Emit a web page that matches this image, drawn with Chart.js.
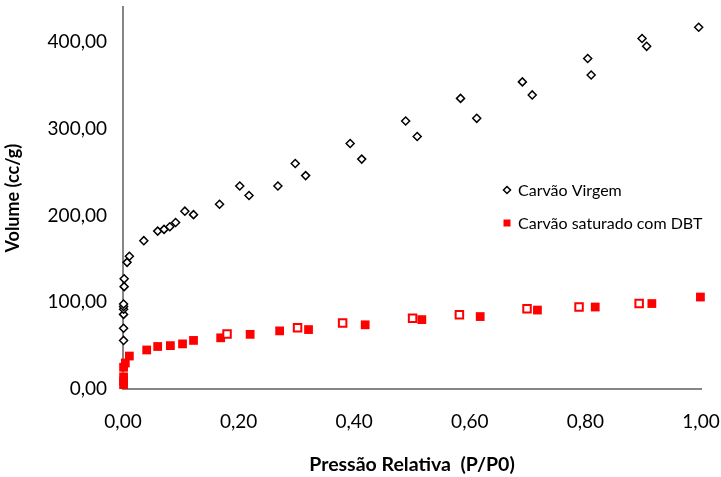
<!DOCTYPE html>
<html>
<head>
<meta charset="utf-8">
<script src="https://cdn.jsdelivr.net/npm/chart.js@4"></script>
<style>
  html, body { margin: 0; padding: 0; background: #fff; }
  #wrap { width: 721px; height: 477px; position: relative; }
</style>
</head>
<body>
<div id="wrap"><canvas id="chart" width="721" height="477"></canvas></div>
<script>
// Carvão Virgem (adsorção + dessorção)
const virgemX = [0.001,0.001,0.001,0.001,0.001,0.001,0.002,0.002,0.007,0.011,0.036,0.060,0.071,0.081,0.091,0.107,0.122,0.167,0.202,0.218,0.268,0.298,0.316,0.393,0.413,0.489,0.509,0.584,0.612,0.691,0.708,0.804,0.810,0.898,0.906,0.996];
const virgemY = [56,70,86,92,95,98,118,127,146,153,171,182,184,187,192,205,201,213,234,223,234,260,246,283,265,309,291,335,312,354,339,381,362,404,395,417];

// Carvão saturado com DBT (adsorção, quadrado cheio)
const dbtX = [0.001,0.001,0.001,0.001,0.004,0.011,0.041,0.060,0.082,0.103,0.122,0.169,0.220,0.271,0.321,0.419,0.517,0.618,0.717,0.817,0.915,0.999];
const dbtY = [5,9,14,25,30,38,45,49,50,52,56,59,63,67,68.5,74,80,83.5,91,94.5,98.5,106];

// Carvão saturado com DBT (dessorção, quadrado vazio)
const dbtDesX = [0.180,0.302,0.380,0.501,0.582,0.699,0.789,0.893];
const dbtDesY = [63.5,70.5,76,81.5,85.5,92.5,94.5,98.5];

const yTicks = [0,100,200,300,400];
const xTicks = [0,0.2,0.4,0.6,0.8,1.0];

const pts = (xs, ys) => xs.map((x, i) => ({ x, y: ys[i] }));
const fmt = v => Number(v).toFixed(2).replace(".", ",");
const FONT = "Lato";

const legendItems = [
  { text: "Carvão Virgem", style: "diamond" },
  { text: "Carvão saturado com DBT", style: "square" }
];

const legendPlugin = {
  id: "sideLegend",
  afterDraw(chart) {
    const ctx = chart.ctx;
    ctx.save();
    ctx.font = "16px " + FONT;
    ctx.textBaseline = "middle";
    legendItems.forEach((it, i) => {
      const y = 190 + i * 33;
      const x = 507;
      if (it.style === "diamond") {
        ctx.beginPath();
        ctx.moveTo(x, y - 3.5); ctx.lineTo(x + 3.5, y); ctx.lineTo(x, y + 3.5); ctx.lineTo(x - 3.5, y);
        ctx.closePath();
        ctx.fillStyle = "#fff"; ctx.fill();
        ctx.strokeStyle = "#000"; ctx.lineWidth = 1.5; ctx.stroke();
      } else {
        ctx.fillStyle = "#ff0000";
        ctx.fillRect(x - 3.5, y - 3.5, 7, 7);
      }
      ctx.fillStyle = "#000";
      ctx.fillText(it.text, x + 11, y + 1);
    });
    ctx.restore();
  }
};

// keep the plot box where the reference has it
function noPad(s) {
  s.paddingTop = 0; s.paddingBottom = 0; s.paddingLeft = 0; s.paddingRight = 0;
}

new Chart(document.getElementById("chart"), {
  type: "scatter",
  data: {
    datasets: [
      {
        label: "Carvão Virgem",
        data: pts(virgemX, virgemY),
        pointStyle: "rectRot",
        pointRadius: 4,
        pointBorderWidth: 1.5,
        borderColor: "#000",
        backgroundColor: "#fff",
        clip: false
      },
      {
        label: "Carvão saturado com DBT (dessorção)",
        data: pts(dbtDesX, dbtDesY),
        pointStyle: "rect",
        pointRadius: 5.3,
        pointBorderWidth: 2,
        borderColor: "#ff0000",
        backgroundColor: "#fff",
        clip: false
      },
      {
        label: "Carvão saturado com DBT",
        data: pts(dbtX, dbtY),
        pointStyle: "rect",
        pointRadius: 6.2,
        pointBorderWidth: 0,
        borderColor: "#ff0000",
        backgroundColor: "#ff0000",
        clip: false
      }
    ]
  },
  options: {
    responsive: false,
    animation: false,
    layout: { padding: { left: 0, right: 20, top: 5, bottom: 0 } },
    plugins: { legend: { display: false }, tooltip: { enabled: false } },
    scales: {
      x: {
        type: "linear",
        min: 0,
        max: 1,
        afterBuildTicks: s => { s.ticks = xTicks.map(v => ({ value: v })); },
        afterFit: s => { s.height = 88; noPad(s); },
        grid: { display: false, drawTicks: false },
        border: { display: true, color: "#868686", width: 2 },
        ticks: {
          padding: 21,
          color: "#000",
          font: { family: FONT, size: 19 },
          callback: v => fmt(v)
        },
        title: {
          display: true,
          text: "Pressão Relativa  (P/P0)",
          color: "#000",
          font: { family: FONT, size: 19.5, weight: "bold" },
          padding: { top: 0, bottom: 1 }
        }
      },
      y: {
        type: "linear",
        min: 0,
        max: 440,
        afterBuildTicks: s => { s.ticks = yTicks.map(v => ({ value: v })); },
        afterFit: s => { s.width = 123; noPad(s); },
        grid: { display: false, drawTicks: false },
        border: { display: true, color: "#868686", width: 2 },
        ticks: {
          padding: 16,
          color: "#000",
          font: { family: FONT, size: 19 },
          callback: v => fmt(v)
        },
        title: {
          display: true,
          text: "Volume (cc/g)",
          color: "#000",
          font: { family: FONT, size: 18, weight: "bold" },
          padding: { top: 2, bottom: 0 }
        }
      }
    }
  },
  plugins: [legendPlugin]
});
</script>
</body>
</html>
